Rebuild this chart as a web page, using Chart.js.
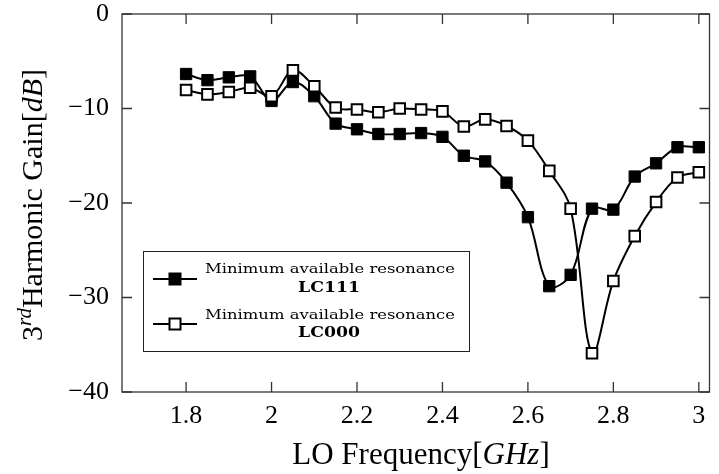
<!DOCTYPE html>
<html>
<head>
<meta charset="utf-8">
<script src="https://cdn.jsdelivr.net/npm/chart.js@4.4.1/dist/chart.umd.min.js"></script>
<style>
  body { margin: 0; background: #fff; }
  #chart { display: block; }
</style>
</head>
<body>
<canvas id="chart" width="719" height="474"></canvas>
<script>
// LO frequency sweep (GHz)
const freqs = [1.8, 1.85, 1.9, 1.95, 2.0, 2.05, 2.1, 2.15, 2.2, 2.25, 2.3, 2.35, 2.4,
               2.45, 2.5, 2.55, 2.6, 2.65, 2.7, 2.75, 2.8, 2.85, 2.9, 2.95, 3.0];

// 3rd harmonic gain (dB)
const lc111 = [-6.35, -7.0, -6.7, -6.6, -9.2, -7.2, -8.7, -11.6, -12.2, -12.7, -12.7, -12.6, -13.0,
               -15.0, -15.6, -17.85, -21.5, -28.8, -27.6, -20.6, -20.7, -17.2, -15.8, -14.1, -14.1];
const lc000 = [-8.04, -8.5, -8.25, -7.8, -8.7, -5.96, -7.65, -9.9, -10.1, -10.4, -10.0, -10.1, -10.3,
               -11.9, -11.15, -11.85, -13.4, -16.6, -20.6, -35.9, -28.25, -23.5, -19.9, -17.3, -16.75];

const xTicks = [1.8, 2, 2.2, 2.4, 2.6, 2.8, 3];
const yTicks = [0, -10, -20, -30, -40];

const legendLabel = "Minimum available resonance";
const seriesNames = ["LC111", "LC000"];

const SERIF = "'Liberation Serif', 'DejaVu Serif', serif";
const WIDE_SERIF = "'DejaVu Serif', serif";

// small CM text is wide, so stretch the glyphs horizontally to the wanted width
function stretchText(ctx, text, cx, y, width) {
    const natural = ctx.measureText(text).width;
    ctx.save();
    ctx.translate(cx - width / 2, y);
    ctx.scale(width / natural, 1);
    ctx.textAlign = "left";
    ctx.fillText(text, 0, 0);
    ctx.restore();
}

function drawSquare(ctx, x, y, filled) {
    const s = 11;
    ctx.fillStyle = filled ? "#000" : "#fff";
    ctx.fillRect(x - s / 2, y - s / 2, s, s);
    ctx.lineWidth = 2;
    ctx.strokeStyle = "#000";
    ctx.strokeRect(x - s / 2, y - s / 2, s, s);
}

const framePlugin = {
    id: "frame",
    afterDatasetsDraw(chart) {
        const { ctx, chartArea: a, scales: { x, y } } = chart;
        ctx.save();
        ctx.strokeStyle = "#333";
        ctx.lineWidth = 1.3;
        ctx.strokeRect(a.left, a.top, a.width, a.height);
        ctx.beginPath();
        x.ticks.forEach(t => {
            const px = x.getPixelForValue(t.value);
            ctx.moveTo(px, a.bottom); ctx.lineTo(px, a.bottom - 10);
            ctx.moveTo(px, a.top); ctx.lineTo(px, a.top + 10);
        });
        y.ticks.forEach(t => {
            const py = y.getPixelForValue(t.value);
            ctx.moveTo(a.left, py); ctx.lineTo(a.left + 10, py);
            ctx.moveTo(a.right, py); ctx.lineTo(a.right - 10, py);
        });
        ctx.stroke();
        ctx.restore();
    },
    afterDraw(chart) {
        const ctx = chart.ctx;
        ctx.save();
        ctx.fillStyle = "#000";
        ctx.textBaseline = "alphabetic";

        // x title: LO Frequency[GHz]
        const xParts = [["LO Frequency[", "normal"], ["GHz", "italic"], ["]", "normal"]];
        let total = 0;
        xParts.forEach(p => { ctx.font = p[1] + " 31px " + SERIF; total += ctx.measureText(p[0]).width; });
        let cx = 421 - total / 2;
        ctx.textAlign = "left";
        xParts.forEach(p => {
            ctx.font = p[1] + " 31px " + SERIF;
            ctx.fillText(p[0], cx, 464);
            cx += ctx.measureText(p[0]).width;
        });

        // y title: 3rd Harmonic Gain[dB]
        ctx.translate(42, 205);
        ctx.rotate(-Math.PI / 2);
        const yParts = [["3", "normal 30px", 0], ["rd", "italic 21px", -11], ["Harmonic Gain[", "normal 30px", 0],
                        ["dB", "italic 30px", 0], ["]", "normal 30px", 0]];
        total = 0;
        yParts.forEach(p => { ctx.font = p[1] + " " + SERIF; total += ctx.measureText(p[0]).width; });
        cx = -total / 2;
        yParts.forEach(p => {
            ctx.font = p[1] + " " + SERIF;
            ctx.fillText(p[0], cx, p[2]);
            cx += ctx.measureText(p[0]).width;
        });
        ctx.restore();

        // legend box
        ctx.save();
        ctx.fillStyle = "#fff";
        ctx.fillRect(143, 251, 326, 100);
        ctx.strokeStyle = "#222";
        ctx.lineWidth = 1;
        ctx.strokeRect(143.5, 251.5, 326, 100);
        const rows = [{ my: 279, t1: 273, t2: 292, filled: true },
                      { my: 324, t1: 319, t2: 337, filled: false }];
        rows.forEach((r, i) => {
            ctx.strokeStyle = "#000";
            ctx.lineWidth = 2;
            ctx.beginPath();
            ctx.moveTo(153, r.my); ctx.lineTo(197, r.my);
            ctx.stroke();
            drawSquare(ctx, 175, r.my, r.filled);
            ctx.fillStyle = "#000";
            ctx.font = "13px " + WIDE_SERIF;
            stretchText(ctx, legendLabel, 330, r.t1, 250);
            ctx.font = "bold 15px " + WIDE_SERIF;
            stretchText(ctx, seriesNames[i], 329, r.t2, 62);
        });
        ctx.restore();
    }
};

const toPoints = ys => freqs.map((f, i) => ({ x: f, y: ys[i] }));
const fmtNum = v => v < 0 ? "\u2212" + Math.abs(v) : String(+v.toFixed(2));

new Chart(document.getElementById("chart"), {
    type: "line",
    data: {
        datasets: [
            {
                label: seriesNames[0],
                data: toPoints(lc111),
                borderColor: "#000",
                borderWidth: 2,
                tension: 0.35,
                pointStyle: "rect",
                pointRadius: 8,
                pointBackgroundColor: "#000",
                pointBorderColor: "#000",
                pointBorderWidth: 1,
                order: 1
            },
            {
                label: seriesNames[1],
                data: toPoints(lc000),
                borderColor: "#000",
                borderWidth: 2,
                tension: 0.35,
                pointStyle: "rect",
                pointRadius: 7.5,
                pointBackgroundColor: "#fff",
                pointBorderColor: "#000",
                pointBorderWidth: 2,
                order: 0
            }
        ]
    },
    options: {
        responsive: false,
        animation: false,
        devicePixelRatio: 1,
        layout: { padding: { top: 14, right: 3, left: 0, bottom: 0 } },
        plugins: { legend: { display: false }, tooltip: { enabled: false } },
        scales: {
            x: {
                type: "linear",
                min: 1.65,
                max: 3.025,
                afterBuildTicks: s => { s.ticks = xTicks.map(v => ({ value: v })); },
                afterFit: s => { s.height = 82; s.paddingLeft = 0; s.paddingRight = 0; },
                grid: { display: false },
                border: { display: false },
                ticks: {
                    callback: v => fmtNum(v),
                    color: "#000",
                    font: { family: SERIF, size: 26 },
                    padding: 1,
                    maxRotation: 0,
                    autoSkip: false
                }
            },
            y: {
                type: "linear",
                min: -40,
                max: 0,
                afterBuildTicks: s => { s.ticks = yTicks.map(v => ({ value: v })); },
                afterFit: s => { s.width = 122; s.paddingTop = 0; s.paddingBottom = 0; },
                grid: { display: false },
                border: { display: false },
                ticks: {
                    callback: v => fmtNum(v),
                    color: "#000",
                    font: { family: SERIF, size: 26 },
                    padding: 5
                }
            }
        }
    },
    plugins: [framePlugin]
});
</script>
</body>
</html>
